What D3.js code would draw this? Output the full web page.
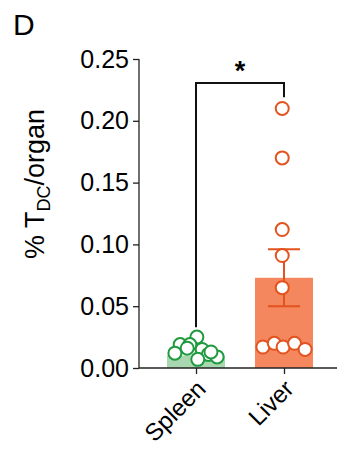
<!DOCTYPE html>
<html>
<head>
    <meta charset="utf-8">
    <title>T DC per organ</title>
    <script src="https://d3js.org/d3.v7.min.js"></script>
    <style>
        body { margin: 0; background: #fff; }
        text { font-family: Arial, "Liberation Sans", sans-serif; }
    </style>
</head>
<body>
<div id="chart"></div>

<script type="text/javascript">
    // groups and readings
    let groups = ["Spleen", "Liver"]
    let spleenValues = [0.025, 0.019, 0.012, 0.019, 0.015, 0.011, 0.009, 0.007, 0.016, 0.013]
    let liverValues = [0.21, 0.17, 0.112, 0.091, 0.065, 0.017, 0.020, 0.017, 0.020, 0.015]
    // horizontal scatter of the dots, as a fraction of the group step
    let spleenJitter = [0.01, -0.18, -0.24, -0.07, 0.07, 0.14, 0.24, 0.02, -0.10, 0.17]
    let liverJitter = [-0.02, -0.02, -0.02, -0.02, -0.02, -0.24, -0.11, -0.01, 0.12, 0.24]
    let means = [0.010, 0.073]
    let sems = [0, 0.023]
    let yTicks = [0, 0.05, 0.10, 0.15, 0.20, 0.25]
    let bracket = {from: "Spleen", to: "Liver", top: 0.2306, leftEnd: 0.033, rightEnd: 0.219, label: "*"}

    let margin = {top: 59, right: 0, bottom: 81, left: 139}
    let w = 202
    let h = 449 - margin.top - margin.bottom

    let svg = d3.select("#chart")
            .append("svg")
                .attr("width", 337)
                .attr("height", 449)

    let g = svg.append("g")
            .attr("transform", "translate(" + margin.left + "," + margin.top + ")")

    let xScale = d3.scalePoint()
                    .domain(groups)
                    .range([0, w])
                    .padding(0.648)

    let yScale = d3.scaleLinear()
                    .domain([0, 0.25])
                    .range([h, 0])

    let step = xScale.step()
    let barW = 58

    let colors = {
        Spleen: {stroke: "#1f9a3f", fill: "#a9d8b0"},
        Liver: {stroke: "#e2531f", fill: "#f4875d"}
    }

    let bars = groups.map(function(d, i) {
        return {group: d, mean: means[i], sem: sems[i]}
    })

    // bars
    g.selectAll("rect.bar")
        .data(bars)
        .enter()
        .append("rect")
        .attr("class", "bar")
        .attr("x", function(d) { return xScale(d.group) - barW / 2 })
        .attr("y", function(d) { return yScale(d.mean) })
        .attr("width", barW)
        .attr("height", function(d) { return h - yScale(d.mean) })
        .attr("fill", function(d) { return colors[d.group].fill })

    // error bars (SEM)
    bars.filter(function(d) { return d.sem > 0 }).forEach(function(d) {
        let cx = xScale(d.group)
        let c = colors[d.group].stroke
        g.append("line")
            .attr("x1", cx).attr("x2", cx)
            .attr("y1", yScale(d.mean - d.sem)).attr("y2", yScale(d.mean + d.sem))
            .attr("stroke", c).attr("stroke-width", 2)
        ;[d.mean - d.sem, d.mean + d.sem].forEach(function(v) {
            g.append("line")
                .attr("x1", cx - 16).attr("x2", cx + 16)
                .attr("y1", yScale(v)).attr("y2", yScale(v))
                .attr("stroke", c).attr("stroke-width", 2)
        })
    })

    // significance bracket
    let bl = xScale(bracket.from), br = xScale(bracket.to)
    g.append("path")
        .attr("d", "M" + bl + "," + yScale(bracket.leftEnd) +
                   "V" + yScale(bracket.top) +
                   "H" + br +
                   "V" + yScale(bracket.rightEnd))
        .attr("fill", "none")
        .attr("stroke", "#111")
        .attr("stroke-width", 2)

    g.append("text")
        .attr("x", (bl + br) / 2)
        .attr("y", yScale(bracket.top) - 3)
        .attr("text-anchor", "middle")
        .attr("font-size", "27px")
        .attr("font-weight", "bold")
        .text(bracket.label)

    // dots
    let points = []
    spleenValues.forEach(function(v, i) { points.push({group: "Spleen", value: v, j: spleenJitter[i]}) })
    liverValues.forEach(function(v, i) { points.push({group: "Liver", value: v, j: liverJitter[i]}) })

    g.selectAll("circle")
        .data(points)
        .enter()
        .append("circle")
        .attr("cx", function(d) { return xScale(d.group) + d.j * step })
        .attr("cy", function(d) { return yScale(d.value) })
        .attr("r", 6.5)
        .attr("fill", "#fff")
        .attr("stroke", function(d) { return colors[d.group].stroke })
        .attr("stroke-width", 2)

    // axes
    let yAxis = d3.axisLeft(yScale)
                    .tickValues(yTicks)
                    .tickFormat(d3.format(".2f"))
                    .tickSize(6)
                    .tickPadding(4)

    let xAxis = d3.axisBottom(xScale)
                    .tickSize(6)
                    .tickFormat("")

    let ya = g.append("g").call(yAxis)
    ya.select(".domain").attr("d", "M0," + h + "V0")
    ya.selectAll("text")
        .attr("font-size", "25px")
        .attr("fill", "#000")
        .attr("font-family", "Arial, 'Liberation Sans', sans-serif")

    let xa = g.append("g")
        .attr("transform", "translate(0," + h + ")")
        .call(xAxis)
    xa.select(".domain").attr("d", "M0,0H" + w)

    g.selectAll(".domain, .tick line").attr("stroke", "#222").attr("stroke-width", 1.3)

    // rotated group labels
    g.selectAll("text.xlab")
        .data(groups)
        .enter()
        .append("text")
        .attr("class", "xlab")
        .attr("transform", function(d) {
            return "translate(" + (xScale(d) - 1) + "," + (h + 10) + ") rotate(-45)"
        })
        .attr("text-anchor", "end")
        .attr("dy", "0.72em")
        .attr("font-size", "24px")
        .text(function(d) { return d })

    // y label with subscript
    let ylab = svg.append("text")
        .attr("transform", "translate(44,184) rotate(-90)")
        .attr("text-anchor", "middle")
        .attr("font-size", "27px")
    ylab.append("tspan").text("% T")
    ylab.append("tspan").attr("font-size", "18px").attr("dy", 6).text("DC")
    ylab.append("tspan").attr("dy", -6).text("/organ")

    // panel letter
    svg.append("text")
        .attr("x", 13)
        .attr("y", 35)
        .attr("font-size", "30px")
        .text("D")
</script>
</body>
</html>
